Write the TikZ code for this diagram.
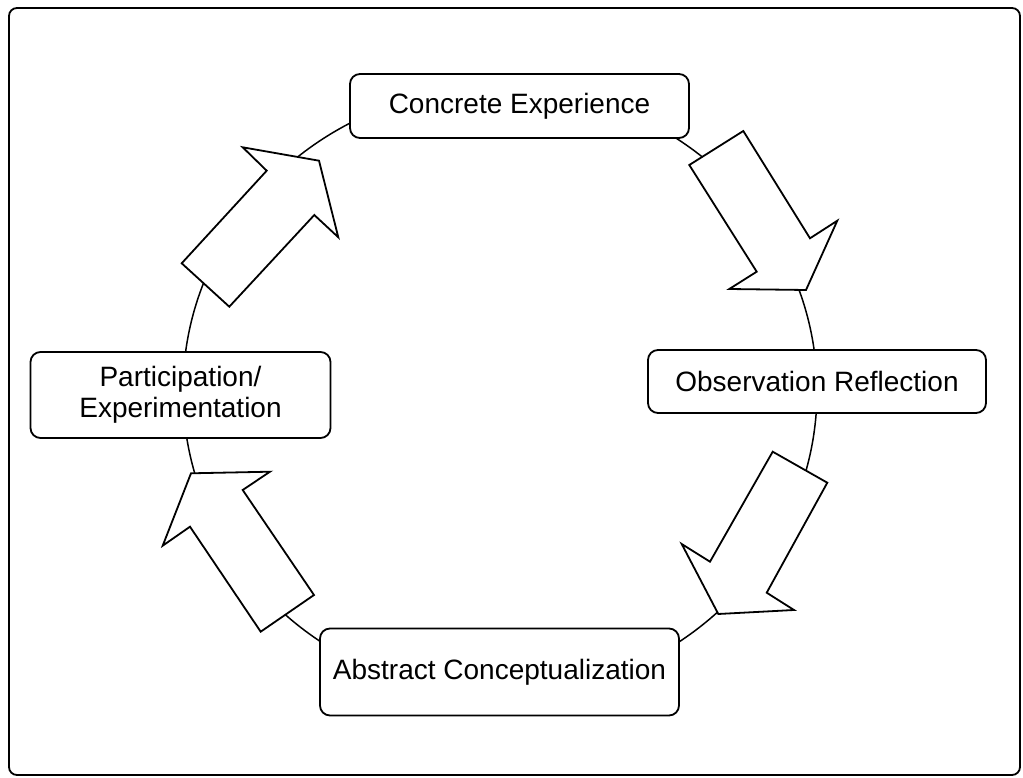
\documentclass[tikz,border=0pt]{standalone}
\usepackage{fontspec}
\setmainfont{Liberation Sans}
\begin{document}
\begin{tikzpicture}[x=1pt,y=-1pt,
  frame/.style={draw=black, line width=1.8pt, rounded corners=8pt},
  stage/.style={draw=black, fill=white, line width=1.8pt, rounded corners=10pt,
    inner sep=0pt, align=center, font=\fontsize{28}{31}\selectfont},
  cycleline/.style={draw=black, line width=1.5pt},
  blockarrow/.style={draw=black, fill=white, line width=1.8pt, line join=miter}]
  \useasboundingbox (0,0) rectangle (1023,778);
  \fill[white] (0,0) rectangle (1023,778);
  % outer frame
  \draw[frame] (9,8) rectangle (1020,775);
  % the learning cycle
  \coordinate (hub) at (500,391);
  \draw[cycleline] (hub) ellipse [x radius=317pt, y radius=304pt];
  % block arrows around the cycle
  \draw[blockarrow] (689.3,165) -- (743.3,131) -- (810,238.3) -- (837.3,220.7)
    -- (806,290) -- (729.3,289) -- (756.7,271.7) -- cycle;
  \draw[blockarrow] (772.7,451.7) -- (827.3,482.7) -- (766.7,592.7) -- (794,610)
    -- (718.3,614) -- (681.7,544) -- (710,561.7) -- cycle;
  \draw[blockarrow] (314,595) -- (260.7,631.7) -- (190,526.7) -- (162.7,545.7)
    -- (191,473.3) -- (270,471.7) -- (242.7,490) -- cycle;
  \draw[blockarrow] (181.7,263.3) -- (229.3,306.7) -- (314.3,215) -- (338.3,237.3)
    -- (319,160.7) -- (242.7,147.3) -- (266.7,170.7) -- cycle;
  % stages
  \node[stage, minimum width=339pt, minimum height=64pt] (ce) at (519.5,106)
    {Concrete Experience};
  \node[stage, minimum width=338pt, minimum height=63pt] (or) at (817,381.5)
    {Observation Reflection};
  \node[stage, minimum width=359pt, minimum height=87pt] (ac) at (499.5,672)
    {Abstract Conceptualization};
  \node[stage, minimum width=300pt, minimum height=86pt] (pe) at (180.5,395)
    {Participation/\\Experimentation};
\end{tikzpicture}
\end{document}
